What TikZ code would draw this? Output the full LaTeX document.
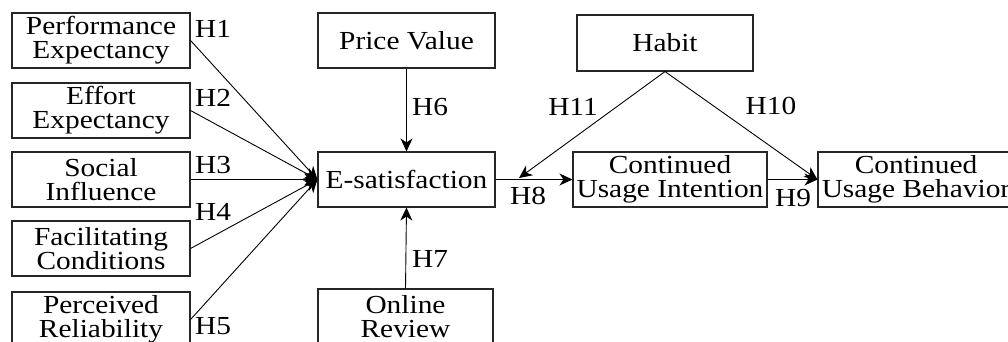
\documentclass[tikz,border=0pt]{standalone}
\usepackage{fontspec}
\setmainfont[FakeStretch=1.13]{Liberation Serif}
\usetikzlibrary{arrows.meta}
\begin{document}
\begin{tikzpicture}[x=1pt,y=-1pt,
  box/.style={draw=black!85,line width=1.1pt,inner sep=0pt,align=center,
    font=\fontsize{26}{24}\selectfont},
  lbl/.style={inner sep=0pt,font=\fontsize{26}{24}\selectfont},
  arr/.style={line width=0.9pt,-{Stealth[length=13pt,width=12pt,inset=4pt]}}]
\clip (0,0) rectangle (1008,342);
\useasboundingbox (0,0) rectangle (1008,342);
\node[box,minimum width=178pt,minimum height=55pt] (pe) at (101,40.5) {Performance\\Expectancy};
\node[box,minimum width=178pt,minimum height=55pt] (ee) at (101,110.5) {Effort\\Expectancy};
\node[box,minimum width=178pt,minimum height=55pt] (si) at (101,179.5) {Social\\Influence};
\node[box,minimum width=178pt,minimum height=55pt] (fc) at (101,248.5) {Facilitating\\Conditions};
\node[box,minimum width=178pt,minimum height=55pt] (pr) at (101,319.5) {Perceived\\Reliability};
\node[box,minimum width=177pt,minimum height=55pt] (pv) at (406.5,40.5) {Price Value};
\node[box,minimum width=177pt,minimum height=55pt] (es) at (406.5,179.5) {E-satisfaction};
\node[box,minimum width=175pt,minimum height=55pt] (or) at (405.5,316.5) {Online\\Review};
\node[box,minimum width=176pt,minimum height=56pt] (hb) at (665,43) {Habit};
\node[box,minimum width=194pt,minimum height=55pt] (cui) at (670,179.5) {Continued\\Usage Intention};
\node[box,minimum width=196pt,minimum height=55pt] (cub) at (916,179.5) {Continued\\Usage Behavior};
\coordinate (h11end) at (519,178);
\draw[arr] (pe.east) -- (es.west);
\draw[arr] (ee.east) -- (es.west);
\draw[arr] (si.east) -- (es.west);
\draw[arr] (fc.east) -- (es.west);
\draw[arr] (pr.east) -- (es.west);
\draw[arr] (pv.south) -- (es.north);
\draw[arr] (or.north) -- (es.south);
\draw[arr] (es.east) -- (cui.west);
\draw[arr] (hb.south) -- (h11end);
\draw[arr] (hb.south) -- (cub.west);
\draw[arr] (cui.east) -- (cub.west);
\node[lbl] (l1) at (213,29) {H1};
\node[lbl] (l2) at (213,98) {H2};
\node[lbl] (l3) at (213,165) {H3};
\node[lbl] (l4) at (213,212) {H4};
\node[lbl] (l5) at (213,326) {H5};
\node[lbl] (l6) at (430,107) {H6};
\node[lbl] (l7) at (430,259) {H7};
\node[lbl] (l8) at (528,196) {H8};
\node[lbl] (l11) at (573,107) {H11};
\node[lbl] (l10) at (771,106) {H10};
\node[lbl] (l9) at (793,198) {H9};
\end{tikzpicture}
\end{document}
